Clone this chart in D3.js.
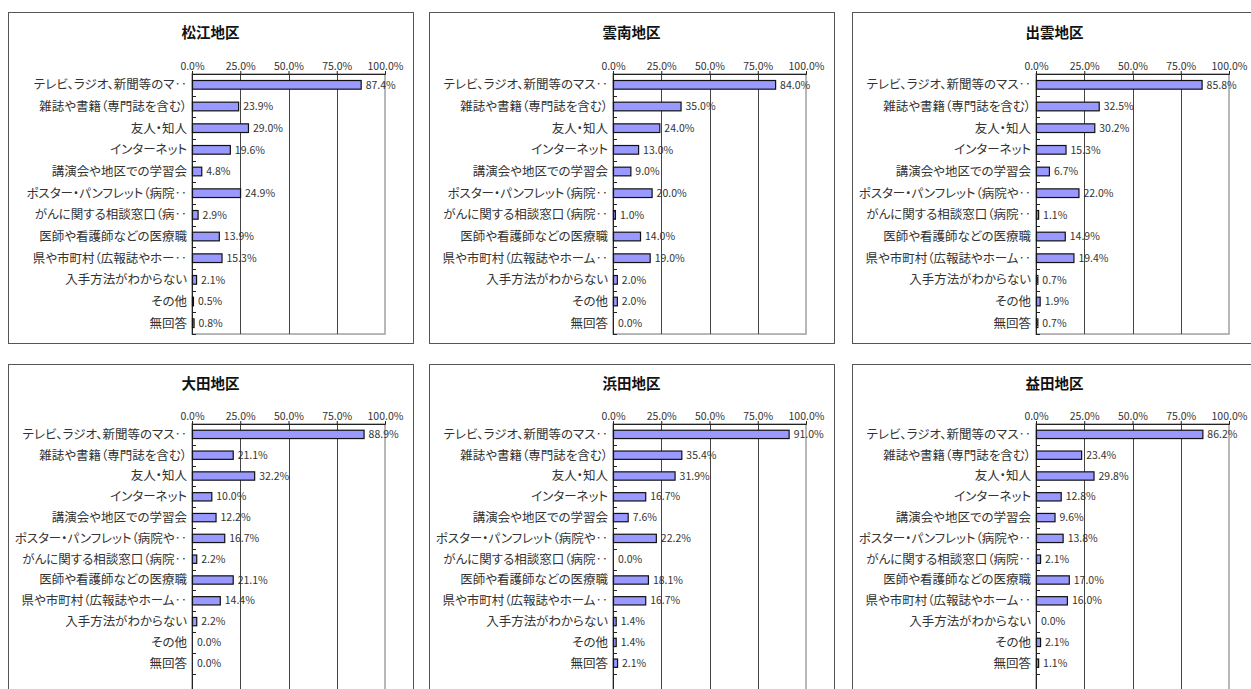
<!DOCTYPE html>
<html>
<head>
<meta charset="utf-8">
<script src="https://cdn.jsdelivr.net/npm/d3@7"></script>
<style>
  body { margin: 0; background: #fff; }
  text { font-family: "Noto Sans CJK JP", "Noto Sans", sans-serif; }
  .cat { font-size: 12.5px; fill: #333; font-feature-settings: "palt"; }
  .val { font-size: 10.5px; fill: #333; }
  .tick text { font-size: 10.5px; fill: #333; }
</style>
</head>
<body>
<div id="chart"></div>
<script>
// 6 districts, same 12 answers, labels are cut by excel so they differ a bit per chart
const districts = ["松江地区", "雲南地区", "出雲地区", "大田地区", "浜田地区", "益田地区"];

const labelsMatsue = ["テレビ、ラジオ、新聞等のマ‥", "雑誌や書籍（専門誌を含む）", "友人・知人", "インターネット",
  "講演会や地区での学習会", "ポスター・パンフレット（病院‥", "がんに関する相談窓口（病‥", "医師や看護師などの医療職",
  "県や市町村（広報誌やホー‥", "入手方法がわからない", "その他", "無回答"];
const labelsUnnan = ["テレビ、ラジオ、新聞等のマス‥", "雑誌や書籍（専門誌を含む）", "友人・知人", "インターネット",
  "講演会や地区での学習会", "ポスター・パンフレット（病院‥", "がんに関する相談窓口（病院‥", "医師や看護師などの医療職",
  "県や市町村（広報誌やホーム‥", "入手方法がわからない", "その他", "無回答"];
const labelsOther = ["テレビ、ラジオ、新聞等のマス‥", "雑誌や書籍（専門誌を含む）", "友人・知人", "インターネット",
  "講演会や地区での学習会", "ポスター・パンフレット（病院や‥", "がんに関する相談窓口（病院‥", "医師や看護師などの医療職",
  "県や市町村（広報誌やホーム‥", "入手方法がわからない", "その他", "無回答"];

const matsue = [87.4, 23.9, 29.0, 19.6, 4.8, 24.9, 2.9, 13.9, 15.3, 2.1, 0.5, 0.8];
const unnan  = [84.0, 35.0, 24.0, 13.0, 9.0, 20.0, 1.0, 14.0, 19.0, 2.0, 2.0, 0.0];
const izumo  = [85.8, 32.5, 30.2, 15.3, 6.7, 22.0, 1.1, 14.9, 19.4, 0.7, 1.9, 0.7];
const ota    = [88.9, 21.1, 32.2, 10.0, 12.2, 16.7, 2.2, 21.1, 14.4, 2.2, 0.0, 0.0];
const hamada = [91.0, 35.4, 31.9, 16.7, 7.6, 22.2, 0.0, 18.1, 16.7, 1.4, 1.4, 2.1];
const masuda = [86.2, 23.4, 29.8, 12.8, 9.6, 13.8, 2.1, 17.0, 16.0, 0.0, 2.1, 1.1];

const xTicks = [0, 25, 50, 75, 100];

const W = 1251, H = 689;
const panelX = [8, 429, 852], panelW = 405;
const rows = [
  { top: 12, h: 331, titleY: 33, plotTop: 74, band: 21.67, frameBands: 12 },
  { top: 364, h: 340, titleY: 384, plotTop: 424, band: 20.8, frameBands: 13 }
];

const panels = [
  { name: districts[0], labels: labelsMatsue, values: matsue },
  { name: districts[1], labels: labelsUnnan, values: unnan },
  { name: districts[2], labels: labelsOther, values: izumo },
  { name: districts[3], labels: labelsOther, values: ota },
  { name: districts[4], labels: labelsOther, values: hamada },
  { name: districts[5], labels: labelsOther, values: masuda }
];

const svg = d3.select("#chart").append("svg")
  .attr("width", W)
  .attr("height", H)
  .style("display", "block");

panels.forEach((p, i) => {
  let r = rows[Math.floor(i / 3)];
  let x0 = panelX[i % 3];
  let plotLeft = x0 + 184, plotW = 193;

  let g = svg.append("g");

  // chart border
  g.append("rect")
    .attr("x", x0 + 0.5).attr("y", r.top + 0.5)
    .attr("width", panelW).attr("height", r.h)
    .attr("fill", "#fff").attr("stroke", "#555");

  g.append("text")
    .attr("x", x0 + panelW / 2).attr("y", r.titleY)
    .attr("dy", "0.35em")
    .attr("text-anchor", "middle")
    .style("font-size", "14.5px").style("font-weight", "bold").style("fill", "#111")
    .text(p.name);

  let x = d3.scaleLinear().domain([0, 100]).range([plotLeft, plotLeft + plotW]);
  let y = d3.scaleBand()
    .domain(p.labels.map((d, j) => j))
    .range([r.plotTop, r.plotTop + r.band * 12])
    .paddingInner(0.6)
    .paddingOuter(0.3);

  let frameH = r.band * r.frameBands;

  // plot frame (grey) + gridlines
  g.append("rect")
    .attr("x", plotLeft).attr("y", r.plotTop)
    .attr("width", plotW).attr("height", frameH)
    .attr("fill", "none").attr("stroke", "#a0a0a0").attr("stroke-width", 1.5);

  g.selectAll(".grid")
    .data(xTicks.slice(1, -1))
    .enter().append("line")
    .attr("x1", d => Math.round(x(d)) + 0.5).attr("x2", d => Math.round(x(d)) + 0.5)
    .attr("y1", r.plotTop).attr("y2", r.plotTop + frameH)
    .attr("stroke", "#444");

  let xAxis = g.append("g")
    .attr("transform", "translate(0," + r.plotTop + ")")
    .call(d3.axisTop(x).tickValues(xTicks).tickSize(3).tickPadding(1)
      .tickFormat(d => d.toFixed(1) + "%"));
  xAxis.select(".domain").attr("stroke", "#222");
  xAxis.selectAll(".tick line").attr("stroke", "#222");
  xAxis.selectAll(".tick text").attr("fill", "#333");

  // category axis with ticks between bands
  g.append("line")
    .attr("x1", plotLeft + 0.5).attr("x2", plotLeft + 0.5)
    .attr("y1", r.plotTop).attr("y2", r.plotTop + frameH)
    .attr("stroke", "#222");

  g.selectAll(".ytick")
    .data(d3.range(r.frameBands + 1))
    .enter().append("line")
    .attr("x1", plotLeft).attr("x2", plotLeft + 4)
    .attr("y1", d => Math.round(r.plotTop + d * y.step()) + 0.5)
    .attr("y2", d => Math.round(r.plotTop + d * y.step()) + 0.5)
    .attr("stroke", "#222");

  let rowsData = p.values.map((v, j) => ({ j: j, v: v, label: p.labels[j] }));

  g.selectAll(".bar")
    .data(rowsData.filter(d => d.v > 0))
    .enter().append("rect")
    .attr("x", x(0) + 0.5)
    .attr("y", d => y(d.j))
    .attr("width", d => x(d.v) - x(0))
    .attr("height", y.bandwidth())
    .attr("fill", "#9999ff")
    .attr("stroke", "#111")
    .attr("stroke-width", 1.2);

  g.selectAll(".cat")
    .data(rowsData)
    .enter().append("text")
    .attr("class", "cat")
    .attr("x", plotLeft - 5)
    .attr("y", d => y(d.j) + y.bandwidth() / 2)
    .attr("dy", "0.35em")
    .attr("text-anchor", "end")
    .text(d => d.label);

  g.selectAll(".val")
    .data(rowsData)
    .enter().append("text")
    .attr("class", "val")
    .attr("x", d => x(d.v) + 5)
    .attr("y", d => y(d.j) + y.bandwidth() / 2)
    .attr("dy", "0.35em")
    .text(d => d.v.toFixed(1) + "%");
});
</script>
</body>
</html>
